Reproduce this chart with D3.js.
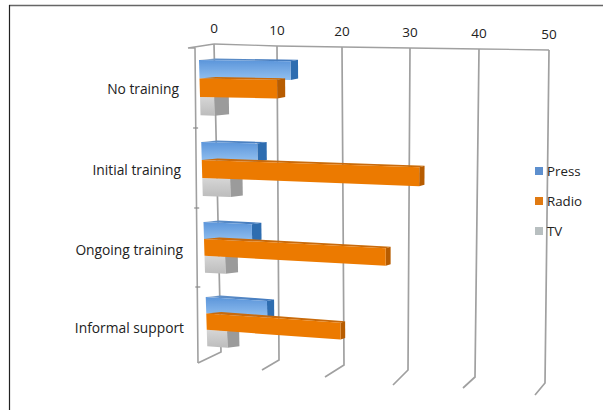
<!DOCTYPE html>
<html>
<head>
<meta charset="utf-8">
<script src="https://d3js.org/d3.v7.min.js"></script>
<style>
  html, body { margin: 0; padding: 0; background: #fff; }
  svg { display: block; }
  text { font-family: "Open Sans", sans-serif; fill: #222; }
</style>
</head>
<body>
<svg id="chart" width="603" height="410"></svg>
<script>
// Chart data
var categories = ["No training", "Initial training", "Ongoing training", "Informal support"];
var seriesNames = ["Press", "Radio", "TV"];
var press = [13, 8, 7, 9];
var radio = [11, 32, 27, 20];
var tv = [2, 4, 3, 3];
var tickValues = [0, 10, 20, 30, 40, 50];

var svg = d3.select("#chart");

// The chart leans in perspective, so each plane gets its own value scales
var backTop = d3.scaleLinear().domain(tickValues).range([214, 277, 342, 410, 479, 549]);
var backBottom = d3.scaleLinear().domain(tickValues).range([221, 279, 344, 408, 475, 545]);
var frontTop = d3.scaleLinear().domain(tickValues).range([199, 270, 338, 406, 475, 545]);
var frontBottom = d3.scaleLinear().domain(tickValues).range([208, 275, 341, 405, 470, 537]);
var gridTopY = d3.scaleLinear().domain(tickValues).range([44, 46, 47, 48, 49, 50]);
var gridBottomY = d3.scaleLinear().domain(tickValues).range([352, 360, 365, 370, 377, 383]);
var footX = d3.scaleLinear().domain(tickValues).range([198, 262, 325, 393, 463, 535]);
var footY = d3.scaleLinear().domain(tickValues).range([363, 370, 377, 385, 388, 395]);

// Vertical position: p counts category rows from the top
var yLeft = d3.scaleLinear().domain([0, 1, 2, 3, 4]).range([60, 142, 222, 297, 370]);
var yRight = d3.scaleLinear().domain([0, 1, 2, 3, 4]).range([65, 152, 238, 319, 397]);
var slotSize = 0.225;

function frontX(v, p) { return d3.interpolateNumber(frontTop(v), frontBottom(v))(p / 4); }
function backX(v, p) { return d3.interpolateNumber(backTop(v), backBottom(v))(p / 4) + 1.5; }
function barY(v, p) { return d3.interpolateNumber(yLeft(p), yRight(p))(v / 50); }

var defs = svg.append("defs");
defs.append("filter").attr("id", "soft")
    .attr("x", "-5%").attr("y", "-5%").attr("width", "110%").attr("height", "110%")
    .append("feGaussianBlur").attr("stdDeviation", 0.5);

var pressGrad = defs.append("linearGradient").attr("id", "pressFill")
    .attr("x1", 0).attr("y1", 0).attr("x2", 0).attr("y2", 1);
pressGrad.append("stop").attr("offset", "0%").attr("stop-color", "#5b95da");
pressGrad.append("stop").attr("offset", "100%").attr("stop-color", "#92c0f0");

var pressTop = defs.append("linearGradient").attr("id", "pressTop");
pressTop.append("stop").attr("offset", "0%").attr("stop-color", "#c4c6c8");
pressTop.append("stop").attr("offset", "18%").attr("stop-color", "#5f8fc8");
pressTop.append("stop").attr("offset", "100%").attr("stop-color", "#3f78bd");

var tvGrad = defs.append("linearGradient").attr("id", "tvFill")
    .attr("x1", 0).attr("y1", 0).attr("x2", 0).attr("y2", 1);
tvGrad.append("stop").attr("offset", "0%").attr("stop-color", "#d6d6d6");
tvGrad.append("stop").attr("offset", "100%").attr("stop-color", "#bcbcbc");

var seriesStyle = {
    Press: { front: "url(#pressFill)", side: "#2f6db0", top: "url(#pressTop)", swatch: "#5d8fce" },
    Radio: { front: "#ec7a05", side: "#b75c06", top: "#c96a08", swatch: "#e07a12" },
    TV: { front: "url(#tvFill)", side: "#9b9b9b", top: "#d8d8d8", swatch: "#b8bfc0" }
};

// Page frame
svg.append("line").attr("x1", 9).attr("y1", 5.5).attr("x2", 603).attr("y2", 5.5)
    .attr("stroke", "#666").attr("stroke-width", 1.5);
svg.append("line").attr("x1", 9.5).attr("y1", 5).attr("x2", 9.5).attr("y2", 410)
    .attr("stroke", "#222").attr("stroke-width", 1.2);

var plot = svg.append("g").attr("filter", "url(#soft)");
var gridColor = "#a0a0a0";

// Top edge of the back wall
var lineGen = d3.line();
plot.append("path")
    .attr("d", lineGen(tickValues.map(function(v) { return [backTop(v), gridTopY(v)]; })))
    .attr("fill", "none").attr("stroke", gridColor).attr("stroke-width", 1.3);

// Grid lines with their feet on the floor
plot.selectAll(".grid")
    .data(tickValues)
    .enter().append("path")
    .attr("class", "grid")
    .attr("d", function(v) {
        return lineGen([[backTop(v), gridTopY(v)], [backBottom(v), gridBottomY(v)], [footX(v), footY(v)]]);
    })
    .attr("fill", "none")
    .attr("stroke", gridColor)
    .attr("stroke-width", 1.7);

// Side wall with category ticks
plot.append("path")
    .attr("d", lineGen([[214, 44], [188, 48], [195, 48], [198, 363]]))
    .attr("fill", "none").attr("stroke", gridColor).attr("stroke-width", 1.6);
var catTickY = d3.scaleLinear().domain([1, 2, 3]).range([128, 208, 287]);
plot.selectAll(".catTick")
    .data([1, 2, 3])
    .enter().append("line")
    .attr("class", "catTick")
    .attr("x1", function(i) { return 192 + i * 1.1; })
    .attr("x2", function(i) { return 197 + i * 1.1; })
    .attr("y1", function(i) { return catTickY(i); })
    .attr("y2", function(i) { return catTickY(i); })
    .attr("stroke", "#8a8a8a").attr("stroke-width", 1.2);

// Bars: press, then TV, then radio so that radio sits over its neighbours
var drawOrder = [
    { name: "Press", slot: 0, values: press },
    { name: "TV", slot: 2, values: tv },
    { name: "Radio", slot: 1, values: radio }
];

categories.forEach(function(cat, i) {
    drawOrder.forEach(function(s) {
        var v = s.values[i];
        var style = seriesStyle[s.name];
        var p0 = i + s.slot * slotSize;
        var p1 = p0 + slotSize;
        var g = plot.append("g").attr("class", "bar");
        // top face
        g.append("path")
            .attr("d", lineGen([
                [frontX(0, p0), barY(0, p0)], [frontX(v, p0), barY(v, p0)],
                [backX(v, p0), barY(v, p0) - 1.5], [backX(0, p0), barY(0, p0) - 1.5]
            ]) + "Z")
            .attr("fill", style.top);
        // end face
        g.append("path")
            .attr("d", lineGen([
                [frontX(v, p0), barY(v, p0)], [backX(v, p0), barY(v, p0) - 1.5],
                [backX(v, p1), barY(v, p1) - 1.5], [frontX(v, p1), barY(v, p1)]
            ]) + "Z")
            .attr("fill", style.side);
        // front face
        g.append("path")
            .attr("d", lineGen([
                [frontX(0, p0), barY(0, p0)], [frontX(v, p0), barY(v, p0)],
                [frontX(v, p1), barY(v, p1)], [frontX(0, p1), barY(0, p1)]
            ]) + "Z")
            .attr("fill", style.front);
    });
});

// Value labels along the top
svg.selectAll(".tickLabel")
    .data(tickValues)
    .enter().append("text")
    .attr("class", "tickLabel")
    .attr("x", function(v) { return backTop(v); })
    .attr("y", function(v) { return gridTopY(v) - 11; })
    .attr("text-anchor", "middle")
    .attr("font-size", 13.5)
    .text(function(v) { return v; });

// Category labels
var labelY = [89, 170, 250, 328];
var labelRight = [179, 181, 183, 184];
svg.selectAll(".catLabel")
    .data(categories)
    .enter().append("text")
    .attr("class", "catLabel")
    .attr("x", function(d, i) { return labelRight[i]; })
    .attr("y", function(d, i) { return labelY[i]; })
    .attr("dy", "0.35em")
    .attr("text-anchor", "end")
    .attr("font-size", 13.8)
    .text(function(d) { return d; });

// Legend
var legendY = d3.scalePoint().domain(seriesNames).range([171, 231]);
var legend = svg.selectAll(".legendItem")
    .data(seriesNames)
    .enter().append("g")
    .attr("class", "legendItem");
legend.append("rect")
    .attr("x", 535)
    .attr("y", function(d) { return legendY(d) - 4; })
    .attr("width", 8)
    .attr("height", 8)
    .attr("fill", function(d) { return seriesStyle[d].swatch; });
legend.append("text")
    .attr("x", 547)
    .attr("y", function(d) { return legendY(d); })
    .attr("dy", "0.35em")
    .attr("font-size", 13.3)
    .text(function(d) { return d; });
</script>
</body>
</html>
